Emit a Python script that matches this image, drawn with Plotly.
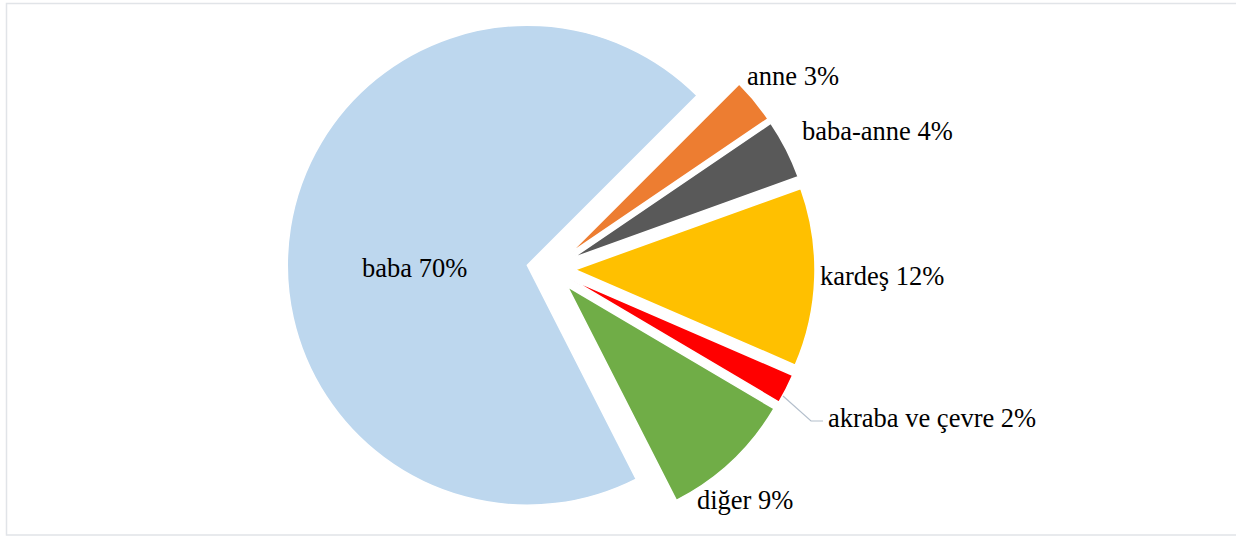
import plotly.graph_objects as go

labels = ["anne", "baba-anne", "kardeş", "akraba ve çevre", "diğer", "baba"]
values = [3, 4, 12, 2, 9, 70]
colors = ["#ED7D31", "#595959", "#FFC000", "#FF0000", "#70AD47", "#BDD7EE"]

W, H = 1236, 536

# label placement (pixel positions of text, anchor)
label_pos = [(745, 76, "left"), (800, 131, "left"), (818, 276, "left"),
             (826, 418, "left"), (695, 500, "left"), (360, 268, "left")]

FONT = dict(family="Times New Roman, Liberation Serif, serif", size=26.5, color="black")

fig = go.Figure(go.Pie(
    labels=labels,
    values=values,
    sort=False,
    direction="clockwise",
    rotation=45,
    pull=[0.1] * len(values),
    marker=dict(colors=colors, line=dict(color="white", width=1.5)),
    textinfo="none",
    automargin=False,
    showlegend=False,
    hoverinfo="label+percent",
    domain=dict(x=[287 / W, 815 / W], y=[3 / H, 531 / H]),
))

annotations = []
for lab, val, (px, py, anc) in zip(labels, values, label_pos):
    annotations.append(dict(
        x=px / W, y=1 - py / H, xref="paper", yref="paper",
        text=f"{lab} {val}%", showarrow=False,
        xanchor=anc, yanchor="middle", font=FONT,
    ))

def P(x, y):
    return f"{x / W} {1 - y / H}"

leader = f"M {P(783, 396)} L {P(811, 421)} L {P(823, 421)}"

fig.update_layout(
    width=W, height=H,
    margin=dict(l=0, r=0, t=0, b=0),
    paper_bgcolor="white",
    plot_bgcolor="white",
    annotations=annotations,
    shapes=[
        dict(type="rect", xref="paper", yref="paper",
             x0=6.5 / W, x1=1.01, y0=1 - 535 / H, y1=1 - 3.5 / H,
             line=dict(color="#E1E4E8", width=1.5)),
        dict(type="path", xref="paper", yref="paper", path=leader,
             line=dict(color="#B4BFCC", width=1.2)),
    ],
)

fig.write_html("out.html", config={"displayModeBar": False},
               post_script="document.body.style.margin='0';")
